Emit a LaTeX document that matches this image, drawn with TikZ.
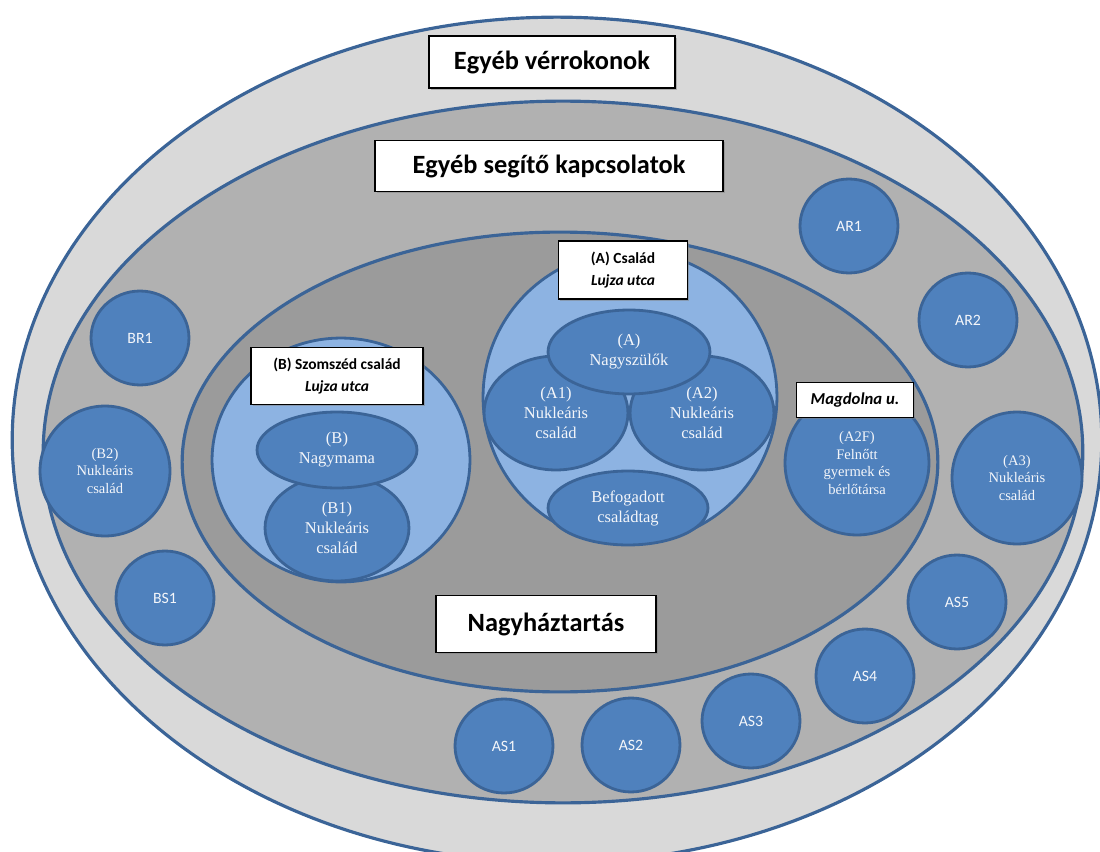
\documentclass[tikz,border=0pt]{standalone}
\usepackage{fontspec}
\setmainfont{Liberation Serif}
\newfontfamily\labelfont{Carlito}
\usetikzlibrary{shapes.geometric,shadows}

\definecolor{ringline}{HTML}{3B6497}
\definecolor{outergray}{HTML}{D9D9D9}
\definecolor{midgray}{HTML}{B1B1B1}
\definecolor{innergray}{HTML}{9B9B9B}
\definecolor{paleblue}{HTML}{8DB3E2}
\definecolor{famblue}{HTML}{4F81BD}
\definecolor{softwhite}{HTML}{F4F6FA}

\begin{document}
\begin{tikzpicture}[x=0.02cm, y=-0.02cm,
    ring/.style 2 args = {ellipse, draw=ringline, line width=1.8pt, inner sep=0pt,
        minimum width=#1*0.04cm, minimum height=#2*0.04cm},
    blob/.style 2 args = {ellipse, draw=ringline, line width=1.6pt, fill=famblue, inner sep=0pt,
        minimum width=#1*0.04cm, minimum height=#2*0.04cm, text=softwhite, align=center,
        font=\fontsize{9.4}{11.4}\selectfont},
    smallserif/.style = {font=\fontsize{8.3}{10}\selectfont},
    contact/.style = {blob={49}{47}, font=\labelfont\fontsize{9}{11}\selectfont},
    bigbox/.style 2 args = {draw=black, line width=0.9pt, fill=white, inner sep=0pt,
        minimum width=#1*0.02cm, minimum height=#2*0.02cm,
        font=\labelfont\bfseries\fontsize{15}{18}\selectfont,
        drop shadow={shadow xshift=1pt, shadow yshift=-1pt, opacity=0.5}},
    smallbox/.style 2 args = {bigbox={#1}{#2}, align=center,
        font=\labelfont\bfseries\fontsize{8.8}{12.5}\selectfont}]

    \clip (0,0) rectangle (1100,852);
    \useasboundingbox (0,0) rectangle (1100,852);

    % three rings
    \node[ring={545}{423}, fill=outergray] (verr) at (557,440) {};
    \node[ring={520}{351}, fill=midgray]   (segito) at (563,452) {};
    \node[ring={378}{230}, fill=innergray] (haztart) at (560,462) {};

    % (B) neighbour family
    \node[blob={129}{122}, fill=paleblue] (bcsal) at (341,460) {};
    \node[blob={72}{53}]  (b1) at (337,528) {(B1)\\Nukleáris\\család};
    \node[blob={80}{38}]  (bmama) at (337,450) {(B)\\Nagymama};

    % (A) family
    \node[blob={147}{146}, fill=paleblue] (acsal) at (630,397) {};
    \node[blob={72}{57}]  (a1) at (556,413) {(A1)\\Nukleáris\\család};
    \node[blob={72}{57}]  (a2) at (702,413) {(A2)\\Nukleáris\\család};
    \node[blob={80}{37}]  (befog) at (628,508) {Befogadott\\családtag};
    \node[blob={81}{42}]  (aszulo) at (629,352) {(A)\\Nagyszülők};

    \node[blob={72}{72}, smallserif] (a2f) at (857,463) {(A2F)\\Felnőtt\\gyermek és\\bérlőtársa};

    % helpers
    \node[blob={65}{65}, smallserif] (b2) at (105,471) {(B2)\\Nukleáris\\család};
    \node[blob={65}{66}, smallserif] (a3) at (1017,478) {(A3)\\Nukleáris\\család};
    \node[contact] (ar1) at (849,226) {AR1};
    \node[contact] (ar2) at (968,320) {AR2};
    \node[contact] (br1) at (140,338) {BR1};
    \node[contact] (bs1) at (165,598) {BS1};
    \node[contact] (as5) at (957,602) {AS5};
    \node[contact] (as4) at (865,676) {AS4};
    \node[contact] (as3) at (751,721) {AS3};
    \node[contact] (as2) at (631,745) {AS2};
    \node[contact] (as1) at (504,746) {AS1};

    % labels
    \node[bigbox={246}{52}] (verrbox) at (552,62) {Egyéb vérrokonok};
    \node[bigbox={348}{51}] (segbox) at (549,166) {Egyéb segítő kapcsolatok};
    \node[bigbox={220}{57}] (hazbox) at (546,624) {Nagyháztartás};
    \node[smallbox={129}{58}] (acsbox) at (623,270) {(A) Család\\\textit{Lujza utca}};
    \node[smallbox={172}{57}] (bcsbox) at (337,376) {(B) Szomszéd család\\\textit{Lujza utca}};
    \node[smallbox={117}{35}, font=\labelfont\bfseries\itshape\fontsize{9.5}{11}\selectfont] (magbox) at (855,400) {Magdolna u.};
\end{tikzpicture}
\end{document}
